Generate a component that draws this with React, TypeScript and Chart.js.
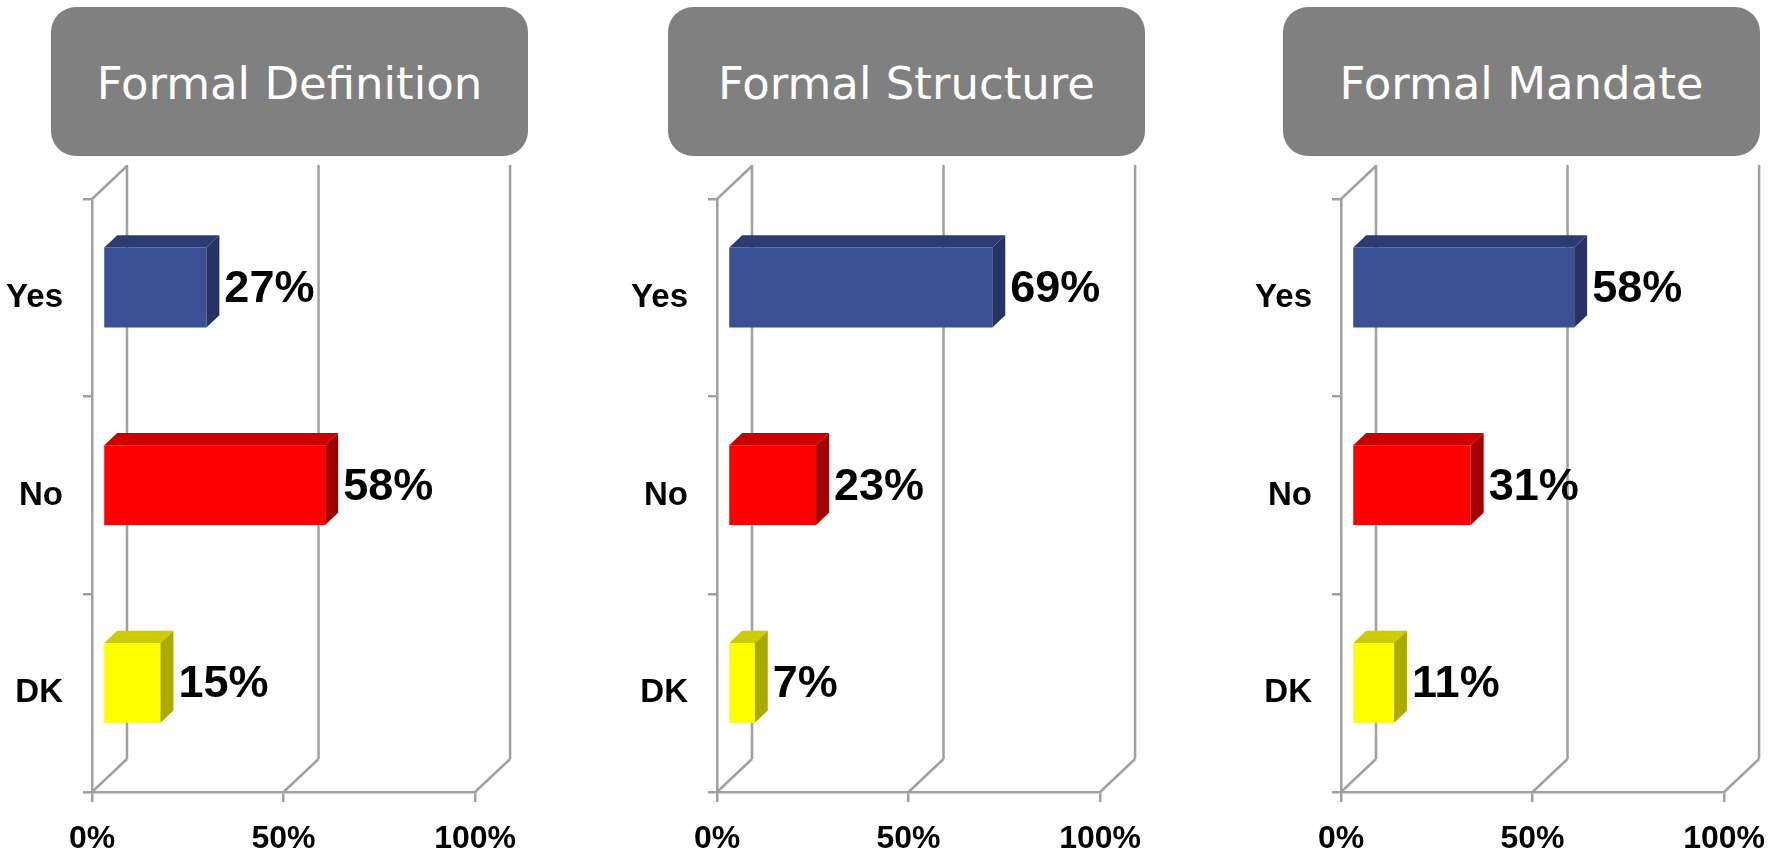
import React, { useEffect, useRef } from 'react';
import { Chart, registerables } from 'chart.js';

Chart.register(...registerables);

// ---- data ----
const categories = ['Yes', 'No', 'DK'];
const chartTitles = ['Formal Definition', 'Formal Structure', 'Formal Mandate'];
const definitionValues = [27, 58, 15];
const structureValues = [69, 23, 7];
const mandateValues = [58, 31, 11];
const xTickValues = [0, 50, 100];

const frontColors = ['#3B4F94', '#FF0000', '#FFFF00'];
const topColors = ['#2C3B72', '#CC0000', '#CCCC00'];
const sideColors = ['#263364', '#A00000', '#AAAA00'];

// ---- layout ----
const CANVAS_W = 534;
const CANVAS_H = 853;
const AXIS_LEFT = 92;
const PLOT_TOP = 199;
const PLOT_W = 384;
const X_AXIS_H = 61;
const WALL_DX = 35;
const WALL_DY = -33;
const BAR_FRONT = 0.314;
const BAR_DEPTH = 0.37;
const GRID = '#A0A0A0';
const GRID_W = 2.5;
const chartLefts = [0, 625, 1249];
const titleLefts = [51, 668, 1283];

const threeDPlugin = {
  id: 'threeD',
  beforeDatasetsDraw(chart: any) {
    const { ctx, chartArea, scales } = chart;
    const x = scales.x;
    ctx.save();
    ctx.strokeStyle = GRID;
    ctx.lineWidth = GRID_W;
    ctx.lineCap = 'butt';
    const line = (x1: number, y1: number, x2: number, y2: number) => {
      ctx.beginPath();
      ctx.moveTo(x1, y1);
      ctx.lineTo(x2, y2);
      ctx.stroke();
    };
    // left wall top edge
    line(chartArea.left, chartArea.top, chartArea.left + WALL_DX, chartArea.top + WALL_DY);
    xTickValues.forEach((v) => {
      const px = x.getPixelForValue(v);
      line(px, chartArea.bottom, px + WALL_DX, chartArea.bottom + WALL_DY);
      line(px + WALL_DX, chartArea.bottom + WALL_DY, px + WALL_DX, chartArea.top + WALL_DY - 1);
    });
    ctx.restore();
  },
  beforeDatasetDraw(chart: any) {
    chart.ctx.save();
    chart.ctx.translate(WALL_DX * BAR_FRONT, WALL_DY * BAR_FRONT);
  },
  afterDatasetDraw(chart: any) {
    chart.ctx.restore();
  },
  afterDatasetsDraw(chart: any) {
    const { ctx } = chart;
    const fx = WALL_DX * BAR_FRONT;
    const fy = WALL_DY * BAR_FRONT;
    const dx = WALL_DX * BAR_DEPTH;
    const dy = WALL_DY * BAR_DEPTH;
    const meta = chart.getDatasetMeta(0);
    const values = chart.data.datasets[0].data;
    ctx.save();
    meta.data.forEach((el: any, i: number) => {
      const p = el.getProps(['x', 'y', 'base', 'height'], true);
      const x0 = p.base + fx;
      const x1 = p.x + fx;
      const yT = p.y - p.height / 2 + fy;
      const yB = p.y + p.height / 2 + fy;
      // top face
      ctx.fillStyle = topColors[i];
      ctx.beginPath();
      ctx.moveTo(x0, yT);
      ctx.lineTo(x1, yT);
      ctx.lineTo(x1 + dx, yT + dy);
      ctx.lineTo(x0 + dx, yT + dy);
      ctx.closePath();
      ctx.fill();
      // side face
      ctx.fillStyle = sideColors[i];
      ctx.beginPath();
      ctx.moveTo(x1, yT);
      ctx.lineTo(x1 + dx, yT + dy);
      ctx.lineTo(x1 + dx, yB + dy);
      ctx.lineTo(x1, yB);
      ctx.closePath();
      ctx.fill();
      // value label
      ctx.fillStyle = '#000';
      ctx.font = 'bold 45px "Liberation Sans", Arial, sans-serif';
      ctx.textAlign = 'left';
      ctx.textBaseline = 'middle';
      ctx.fillText(values[i] + '%', x1 + dx + 5, (yT + yB) / 2 + 2);
    });
    ctx.restore();
  },
};

function Panel({ values, left }: { values: number[]; left: number }) {
  const ref = useRef<HTMLCanvasElement | null>(null);
  useEffect(() => {
    if (!ref.current) return;
    const chart = new Chart(ref.current, {
      type: 'bar',
      data: {
        labels: categories,
        datasets: [
          {
            data: values,
            backgroundColor: frontColors,
            borderWidth: 0,
            barPercentage: 0.404,
            categoryPercentage: 1,
            clip: false as any,
          },
        ],
      },
      options: {
        indexAxis: 'y',
        responsive: false,
        animation: false,
        events: [],
        layout: {
          padding: {
            left: 0,
            top: PLOT_TOP,
            right: CANVAS_W - AXIS_LEFT - PLOT_W,
            bottom: 0,
          },
        },
        plugins: {
          legend: { display: false },
          tooltip: { enabled: false },
        },
        scales: {
          x: {
            type: 'linear',
            min: 0,
            max: 100,
            ticks: {
              stepSize: 50,
              callback: (v: any) => v + '%',
              font: { family: '"Liberation Sans", Arial, sans-serif', size: 32, weight: 'bold' },
              color: '#000',
              padding: 18,
              maxRotation: 0,
            },
            grid: { drawOnChartArea: false, tickLength: 10, color: GRID, lineWidth: GRID_W },
            border: { color: GRID, width: GRID_W },
            afterFit: (s: any) => {
              s.height = X_AXIS_H;
            },
          },
          y: {
            type: 'category',
            ticks: {
              font: { family: '"Liberation Sans", Arial, sans-serif', size: 33, weight: 'bold' },
              color: '#000',
              padding: 20,
            },
            grid: { offset: true, drawOnChartArea: false, tickLength: 9, color: GRID, lineWidth: GRID_W },
            border: { color: GRID, width: GRID_W },
            afterFit: (s: any) => {
              s.width = AXIS_LEFT;
            },
          },
        },
      } as any,
      plugins: [threeDPlugin],
    });
    return () => chart.destroy();
  }, [values]);
  return (
    <canvas
      ref={ref}
      width={CANVAS_W}
      height={CANVAS_H}
      style={{ position: 'absolute', left, top: 0, width: CANVAS_W, height: CANVAS_H }}
    />
  );
}

const panelValues = [definitionValues, structureValues, mandateValues];

export default function App() {
  return (
    <div
      style={{
        position: 'absolute',
        left: 0,
        top: 0,
        width: 1783,
        height: 853,
        background: '#fff',
        overflow: 'hidden',
      }}
    >
      {chartTitles.map((t, i) => (
        <div
          key={t}
          style={{
            position: 'absolute',
            left: titleLefts[i],
            top: 7,
            width: 477,
            height: 149,
            boxSizing: 'border-box',
            paddingTop: 4,
            borderRadius: 25,
            background: '#808080',
            color: '#fff',
            fontFamily: '"DejaVu Sans", Verdana, sans-serif',
            fontSize: 45,
            display: 'flex',
            alignItems: 'center',
            justifyContent: 'center',
            whiteSpace: 'nowrap',
          }}
        >
          {t}
        </div>
      ))}
      {panelValues.map((v, i) => (
        <Panel key={i} values={v} left={chartLefts[i]} />
      ))}
    </div>
  );
}
